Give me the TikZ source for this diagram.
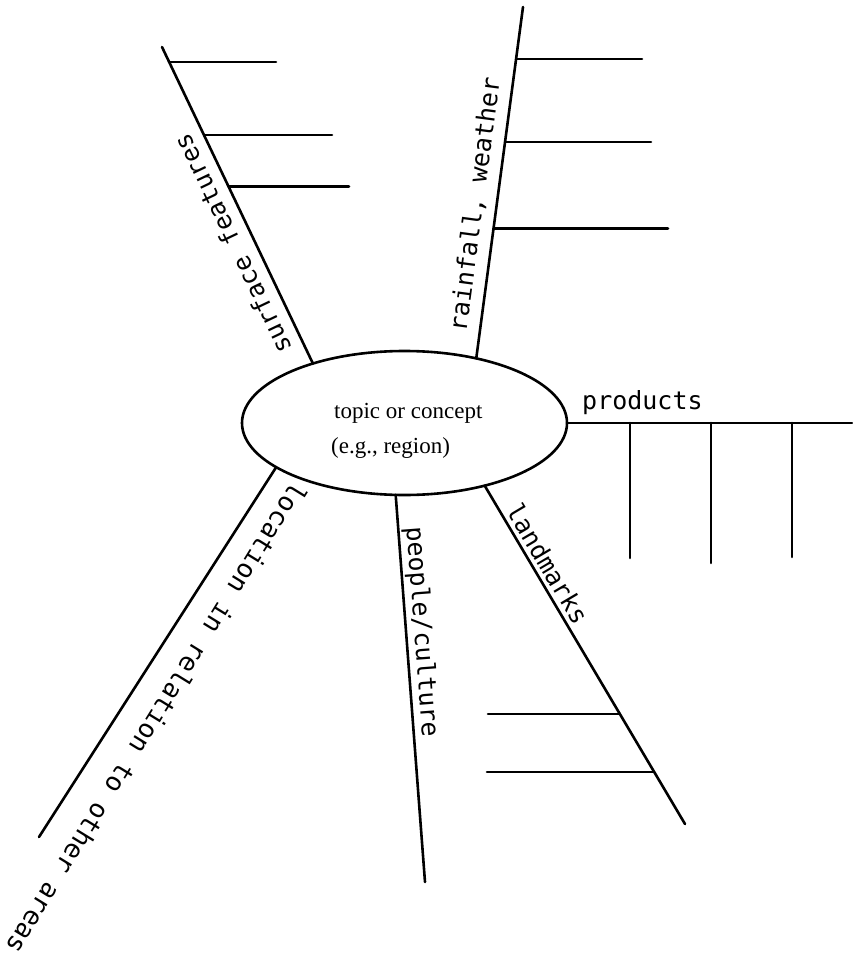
\documentclass[tikz,border=0pt]{standalone}
\usepackage{fontspec}
\setmainfont{Liberation Serif}
\newfontfamily\labelmono{DejaVu Sans Mono}
\usetikzlibrary{shapes.geometric}
\begin{document}
\begin{tikzpicture}[x=1pt,y=-1pt,
  stroke/.style={line width=2.6pt, line cap=round},
  monotext/.style={font=\labelmono\fontsize{25}{30}\selectfont, inner sep=0pt, text depth=0pt},
  lbl/.style={monotext, sloped, allow upside down},
  ctr/.style={font=\fontsize{23}{28}\selectfont, inner sep=0pt, anchor=base west}]
\useasboundingbox (0,0) rectangle (852,968);
\node[draw, ellipse, line width=2.6pt, minimum width=325pt, minimum height=144pt, inner sep=0pt, outer sep=0pt] (ell) at (404.5,423) {};
\node[ctr] (t1) at (334,418) {topic or concept};
\node[ctr] (t2) at (331,453) {(e.g., region)};

\coordinate (sf1) at (162,47);
\coordinate (rw1) at (523,7);
\coordinate (pr1) at (852,423);
\coordinate (lm1) at (685,824);
\coordinate (pc1) at (425,882);
\coordinate (lo1) at (39,837);

\coordinate (sfae) at (276,62);
\coordinate (sfbe) at (332,135);
\coordinate (sfce) at (349,186);
\coordinate (rwae) at (642,59);
\coordinate (rwbe) at (651,142);
\coordinate (rwce) at (668,228);
\coordinate (prae) at (630,558);
\coordinate (prbe) at (711,563);
\coordinate (prce) at (792,557);
\coordinate (lmae) at (488,714);
\coordinate (lmbe) at (487,772);

% surface features
\draw[stroke] (ell.147) -- (sf1)
  node[lbl, pos=0.406, above=11pt] (sfl) {surface features}
  coordinate[pos=0.9525] (sfa) coordinate[pos=0.7215] (sfb) coordinate[pos=0.560] (sfc);
\draw[stroke] (sfa) -- (sfa -| sfae);
\draw[stroke] (sfb) -- (sfb -| sfbe);
\draw[stroke] (sfc) -- (sfc -| sfce);

% rainfall, weather
\draw[stroke] (ell.42.6) -- (rw1)
  node[lbl, pos=0.43, above=12pt] (rwl) {rainfall, weather}
  coordinate[pos=0.852] (rwa) coordinate[pos=0.6154] (rwb) coordinate[pos=0.3704] (rwc);
\draw[stroke] (rwa) -- (rwa -| rwae);
\draw[stroke] (rwb) -- (rwb -| rwbe);
\draw[stroke] (rwc) -- (rwc -| rwce);

% products
\draw[stroke] (ell.0) -- (pr1)
  coordinate[pos=0.221] (pra) coordinate[pos=0.505] (prb) coordinate[pos=0.789] (prc);
\node[monotext, anchor=base west] (prl) at (582,409) {products};
\draw[stroke] (pra) -- (pra |- prae);
\draw[stroke] (prb) -- (prb |- prbe);
\draw[stroke] (prc) -- (prc |- prce);

% landmarks
\draw[stroke] (ell.-38.75) -- (lm1)
  node[lbl, pos=0.253, above=4pt] (lml) {landmarks}
  coordinate[pos=0.6746] (lma) coordinate[pos=0.846] (lmb);
\draw[stroke] (lma) -- (lma -| lmae);
\draw[stroke] (lmb) -- (lmb -| lmbe);

% people/culture
\draw[stroke] (ell.-97.5) -- (pc1)
  node[lbl, pos=0.357, above=7pt] (pcl) {people/culture};

% location
\draw[stroke] (ell.-161.4) -- (lo1);
\node[monotext, font=\labelmono\fontsize{26}{30}\selectfont, rotate=238.4] (lol) at (157,719) {location in relation to other areas};
\end{tikzpicture}
\end{document}
